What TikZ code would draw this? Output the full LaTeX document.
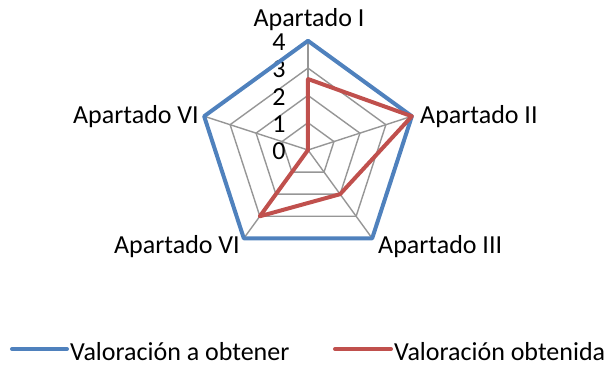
\documentclass[tikz,border=0pt]{standalone}
\usepackage{fontspec}
\setmainfont{Carlito}
\definecolor{serieA}{RGB}{79,129,189}
\definecolor{serieB}{RGB}{192,80,77}
\definecolor{rejilla}{RGB}{150,150,150}
\tikzset{
  grid line/.style={draw=rejilla, line width=1.4pt},
  serie a/.style={draw=serieA, line width=4pt, line join=round},
  serie b/.style={draw=serieB, line width=4pt, line join=round},
  eje label/.style={font=\fontsize{26}{28}\selectfont, inner sep=0pt},
}
\begin{document}
\begin{tikzpicture}[x=1pt,y=1pt]
\useasboundingbox (-308,-215) rectangle (306,150);

\def\u{27.3}
\coordinate (c) at (0,0);
% vertices of the outer pentagon
\coordinate (v1) at (90:4*\u);
\coordinate (v2) at (18:4*\u);
\coordinate (v3) at (-54:4*\u);
\coordinate (v4) at (-126:4*\u);
\coordinate (v5) at (162:4*\u);

% grid
\foreach \k in {1,2,3}
  \draw[grid line] (90:\k*\u) -- (18:\k*\u) -- (-54:\k*\u) -- (-126:\k*\u) -- (162:\k*\u) -- cycle;
\foreach \v in {v1,v2,v3,v4,v5}
  \draw[grid line] (c) -- (\v);

% scale
\foreach \k in {0,1,2,3,4}
  \node[eje label] (t\k) at (-29,\k*\u-1.5) {\k};

% series
\draw[serie a] (v1) -- (v2) -- (v3) -- (v4) -- (v5) -- cycle;
\coordinate (r1) at (90:2.6*\u);
\coordinate (r2) at (18:4*\u);
\coordinate (r3) at (-54:2*\u);
\coordinate (r4) at (-126:3*\u);
\coordinate (r5) at (c);
\draw[serie b] (r1) -- (r2) -- (r3) -- (r4) -- (r5) -- cycle;

% axis labels
\node[eje label, anchor=base] (l1) at (1,123.5) {Apartado I};
\node[eje label, anchor=base west] (l2) at (112,27) {Apartado II};
\node[eje label, anchor=base west] (l3) at (70,-103) {Apartado III};
\node[eje label, anchor=base east] (l4) at (-68,-103) {Apartado VI};
\node[eje label, anchor=base east] (l5) at (-109,27) {Apartado VI};

% legend
\coordinate (a1) at (-296,-199);
\coordinate (a2) at (-241,-199);
\coordinate (b1) at (27,-199);
\coordinate (b2) at (83,-199);
\draw[serie a, line cap=round] (a1) -- (a2);
\draw[serie b, line cap=round] (b1) -- (b2);
\node[eje label, anchor=base west] (la) at (-238,-210) {Valoración a obtener};
\node[eje label, anchor=base west] (lb) at (86,-210) {Valoración obtenida};
\end{tikzpicture}
\end{document}
